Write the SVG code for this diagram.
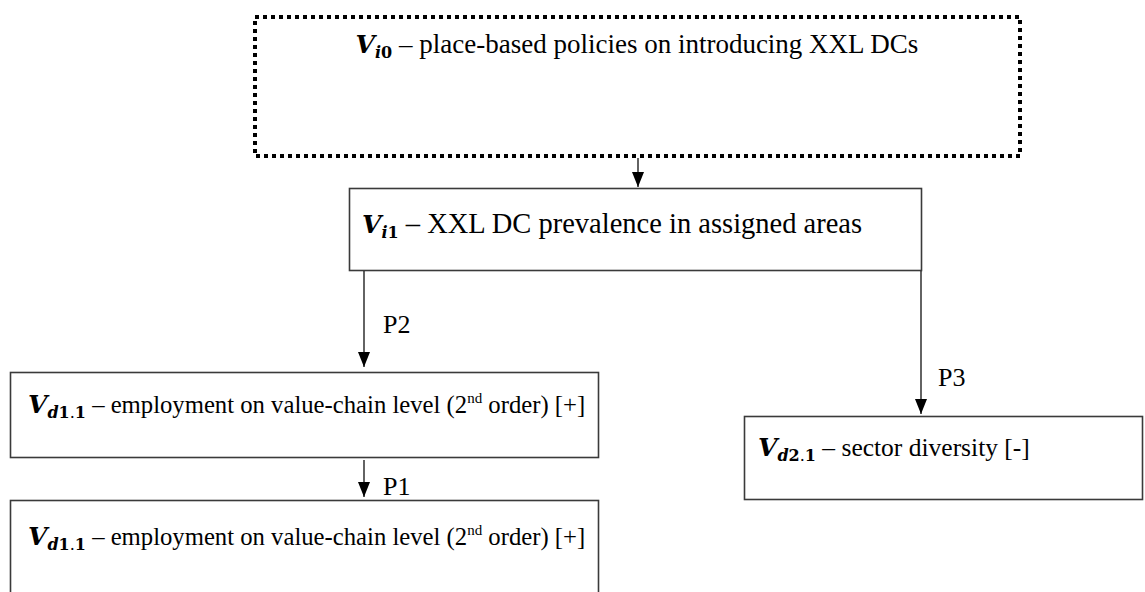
<svg xmlns="http://www.w3.org/2000/svg" width="1145" height="592" viewBox="0 0 1145 592">
<style>
.box{fill:#fff;stroke:#3a3a3a;stroke-width:1.6}
.dot{fill:none;stroke:#000;stroke-width:4;stroke-dasharray:4 4}
.t{font-family:"Liberation Serif","Times New Roman",serif;font-size:26px;fill:#000}
.m{font-family:"DejaVu Serif",serif;font-weight:bold;font-style:italic;font-size:25px}
.s{font-family:"DejaVu Serif",serif;font-weight:bold;font-size:16px}
.si{font-style:italic}
.sr{font-weight:normal}
.sup{font-size:15px}
.c{stroke:#222;stroke-width:1.4;fill:none}
</style>
<defs>
<marker id="ah" markerWidth="16" markerHeight="14" refX="15" refY="7" orient="auto" markerUnits="userSpaceOnUse" viewBox="0 0 16 14">
<path d="M0,1 L15,7 L0,13 Z" fill="#000"/>
</marker>
</defs>
<g id="n0">
<rect class="dot" x="255" y="17" width="765" height="139"/>
<text class="t" x="637" y="53" text-anchor="middle" style="font-size:27px"><tspan class="m">V</tspan><tspan class="s si" dy="5">i</tspan><tspan class="s">0</tspan><tspan dy="-5"> – place-based policies on introducing XXL DCs</tspan></text>
</g>
<g id="n1">
<rect class="box" x="349.5" y="188.5" width="572" height="82"/>
<text class="t" x="362" y="233" style="font-size:28.5px"><tspan class="m">V</tspan><tspan class="s si" dy="5">i</tspan><tspan class="s">1</tspan><tspan dy="-5"> – XXL DC prevalence in assigned areas</tspan></text>
</g>
<g id="n2">
<rect class="box" x="10.5" y="372.5" width="588" height="85"/>
<text class="t" x="28" y="413" style="font-size:24.7px"><tspan class="m">V</tspan><tspan class="s si" dy="5">d</tspan><tspan class="s">1</tspan><tspan class="s sr">.</tspan><tspan class="s">1</tspan><tspan dy="-5"> – employment on value-chain level (2</tspan><tspan class="sup" dy="-10">nd</tspan><tspan dy="10"> order) [+]</tspan></text>
</g>
<g id="n3">
<rect class="box" x="10.5" y="500.5" width="588" height="100"/>
<text class="t" x="28" y="545" style="font-size:24.7px"><tspan class="m">V</tspan><tspan class="s si" dy="5">d</tspan><tspan class="s">1</tspan><tspan class="s sr">.</tspan><tspan class="s">1</tspan><tspan dy="-5"> – employment on value-chain level (2</tspan><tspan class="sup" dy="-10">nd</tspan><tspan dy="10"> order) [+]</tspan></text>
</g>
<g id="n4">
<rect class="box" x="744.5" y="416.5" width="398" height="83"/>
<text class="t" x="758" y="456" style="font-size:25.5px"><tspan class="m">V</tspan><tspan class="s si" dy="5">d</tspan><tspan class="s">2</tspan><tspan class="s sr">.</tspan><tspan class="s">1</tspan><tspan dy="-5"> – sector diversity [-]</tspan></text>
</g>
<g id="connectors">
<line class="c" x1="638" y1="158" x2="638" y2="187" marker-end="url(#ah)"/>
<line class="c" x1="364" y1="271" x2="364" y2="367" marker-end="url(#ah)"/>
<line class="c" x1="364" y1="460" x2="364" y2="497" marker-end="url(#ah)"/>
<line class="c" x1="921" y1="271" x2="921" y2="414" marker-end="url(#ah)"/>
<text class="t" x="383" y="333">P2</text>
<text class="t" x="383" y="495">P1</text>
<text class="t" x="938" y="386">P3</text>
</g>
</svg>
